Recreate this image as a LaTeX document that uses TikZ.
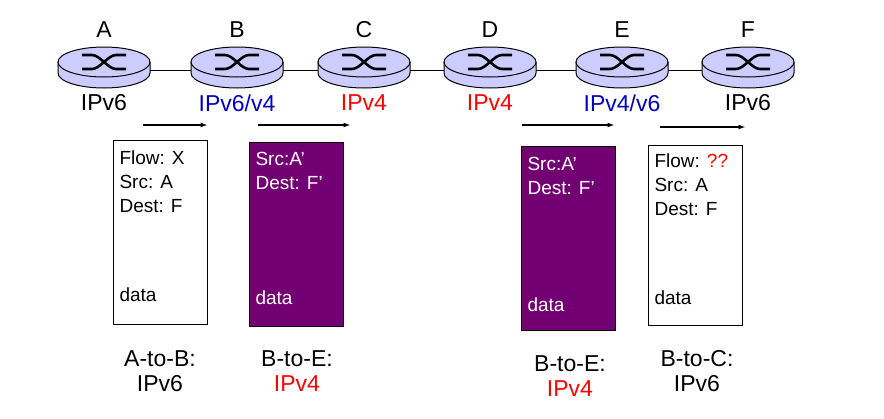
\documentclass[tikz,border=0pt]{standalone}
\usepackage{fontspec}
\setmainfont{Liberation Sans}
\tikzset{
  rtr/.style={fill=blue!20, draw=black, line width=1pt},
  pkt/.style={draw=black, line width=0.8pt, minimum width=94pt, minimum height=184pt, anchor=north west},
  tun/.style={pkt, fill=violet!90!black},
  lbl/.style={font=\fontsize{23}{25}\selectfont},
  txt/.style={font=\fontsize{19}{24}\selectfont, align=left, anchor=north west},
  mv/.style={-latex, line width=1.2pt}
}
\newcommand{\rtr}[3]{% name, x, letter
  \coordinate (#1) at (#2,62);
  \draw[rtr] (#2-46,62) -- (#2-46,73) arc (180:0:46 and 15) -- (#2+46,62);
  \draw[rtr] (#2,62) ellipse (46 and 15);
  \draw[line width=2.6pt] (#2-22,55) -- (#2-12,55) .. controls (#2-4,55) and (#2+4,69) .. (#2+12,69) -- (#2+22,69);
  \draw[line width=2.6pt] (#2-22,69) -- (#2-12,69) .. controls (#2-4,69) and (#2+4,55) .. (#2+12,55) -- (#2+22,55);
  \node[lbl] (#1l) at (#2,30) {#3};
}
\begin{document}
\begin{tikzpicture}[x=1pt,y=-1pt]
\useasboundingbox (0,0) rectangle (884,418);
% line behind routers
\draw[line width=1pt] (100,70) -- (748,70);
\rtr{ra}{104}{A}
\rtr{rb}{237}{B}
\rtr{rc}{364}{C}
\rtr{rd}{490}{D}
\rtr{re}{622}{E}
\rtr{rf}{748}{F}

\node[lbl] at (104,103) {IPv6};
\node[lbl, text=blue!75!black] at (237,103) {IPv6/v4};
\node[lbl, text=red] at (364,103) {IPv4};
\node[lbl, text=red] at (490,103) {IPv4};
\node[lbl, text=blue!75!black] at (622,103) {IPv4/v6};
\node[lbl] at (748,103) {IPv6};

% arrows
\draw[mv] (143,125) -- (207,125);
\draw[mv] (258,125) -- (350,125);
\draw[mv] (522,125) -- (614,125);
\draw[mv] (660,127) -- (745,127);

% packets
\node[pkt] (p1) at (113,140) {};
\node[tun] (p2) at (249,142) {};
\node[tun] (p3) at (521,146) {};
\node[pkt, minimum height=180pt] (p4) at (648,145) {};

\node[txt] at (116,147) {Flow: X\\Src: A\\Dest: F};
\node[txt] at (116,284) {data};
\node[txt, text=white] at (252,149) {Src:A’\\Dest: F’};
\node[txt, text=white] at (252,287) {data};
\node[txt, text=white] at (524,154) {Src:A’\\Dest: F’};
\node[txt, text=white] at (524,294) {data};
\node[txt] at (651,150) {Flow: \textcolor{red}{??}\\Src: A\\Dest: F};
\node[txt] at (651,287) {data};

% captions
\node[lbl, align=center] at (160,371) {A-to-B:\\IPv6};
\node[lbl, align=center] at (297,371) {B-to-E:\\\textcolor{red}{IPv4}};
\node[lbl, align=center] at (570,376) {B-to-E:\\\textcolor{red}{IPv4}};
\node[lbl, align=center] at (697,371) {B-to-C:\\IPv6};
\end{tikzpicture}
\end{document}
